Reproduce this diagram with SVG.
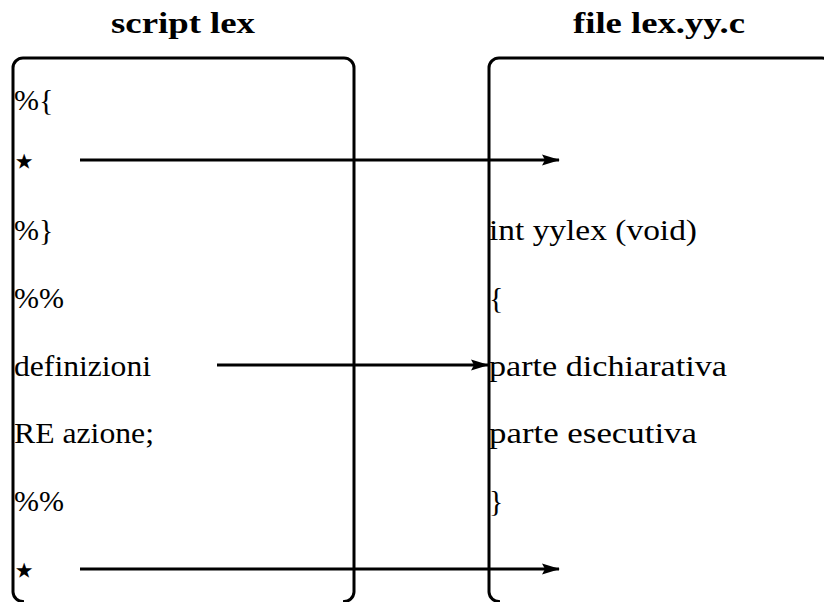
<svg xmlns="http://www.w3.org/2000/svg" width="824" height="602" viewBox="0 0 824 602">
  <defs>
    <marker id="arrowhead" viewBox="0 0 18 12" refX="17" refY="6" markerWidth="18" markerHeight="12" markerUnits="userSpaceOnUse" orient="auto">
      <path d="M0,0.5 L18,6 L0,11.5 L3,6 Z" fill="#000"/>
    </marker>
  </defs>
  <style>
    .frame { fill: none; stroke: #000; stroke-width: 3; }
    .title { font-family: "Liberation Serif", "DejaVu Serif", serif; font-weight: bold; font-size: 30px; fill: #000; text-anchor: middle; }
    .code { font-family: "Liberation Serif", "DejaVu Serif", serif; font-size: 30px; fill: #000; }
    .star { font-family: "DejaVu Sans", sans-serif; font-size: 42px; fill: #000; }
    .link { fill: none; stroke: #000; stroke-width: 3; marker-end: url(#arrowhead); }
  </style>
  <rect width="824" height="602" fill="#fff"/>

  <!-- lex source script -->
  <g id="script-lex">
    <text class="title" x="183" y="33" textLength="144" lengthAdjust="spacingAndGlyphs">script lex</text>
    <path class="frame" d="M24,601.5 A10,10 0 0 1 13,592 V68 A10,10 0 0 1 23,58 H344 A10,10 0 0 1 354,68 V592 A10,10 0 0 1 343,601.5"/>
    <text class="code" x="14" y="110">%{</text>
    <text class="star" x="11" y="175">⋆</text>
    <text class="code" x="14" y="240">%}</text>
    <text class="code" x="14" y="308">%%</text>
    <text class="code" x="14" y="376" textLength="137" lengthAdjust="spacingAndGlyphs">definizioni</text>
    <text class="code" x="14" y="443" textLength="140" lengthAdjust="spacingAndGlyphs">RE azione;</text>
    <text class="code" x="14" y="511">%%</text>
    <text class="star" x="11" y="584">⋆</text>
  </g>

  <!-- generated C file -->
  <g id="file-lex-yy-c">
    <text class="title" x="659" y="33" textLength="172" lengthAdjust="spacingAndGlyphs">file lex.yy.c</text>
    <path class="frame" d="M500,601.5 A10,10 0 0 1 489,592 V68 A10,10 0 0 1 499,58 H822 A10,10 0 0 1 832,68"/>
    <text class="code" x="489" y="240" textLength="208" lengthAdjust="spacingAndGlyphs">int yylex (void)</text>
    <text class="code" x="489" y="308">{</text>
    <text class="code" x="489" y="376" textLength="238" lengthAdjust="spacingAndGlyphs">parte dichiarativa</text>
    <text class="code" x="489" y="443" textLength="208" lengthAdjust="spacingAndGlyphs">parte esecutiva</text>
    <text class="code" x="489" y="511">}</text>
  </g>

  <!-- copy connections -->
  <g id="connectors">
    <line class="link" x1="80" y1="160" x2="559" y2="160"/>
    <line class="link" x1="217" y1="365" x2="488" y2="365"/>
    <line class="link" x1="80" y1="569" x2="559" y2="569"/>
  </g>
</svg>
